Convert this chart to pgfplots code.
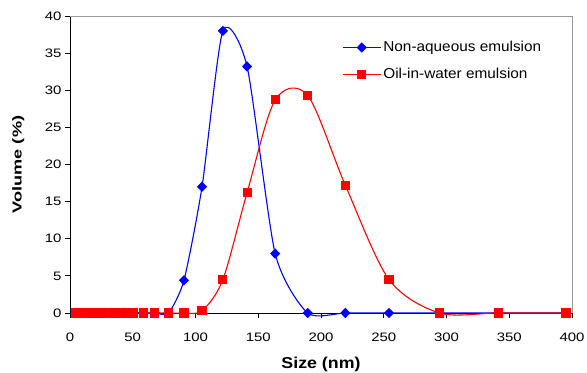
\documentclass[border=0pt]{standalone}
\usepackage{pgfplots}
\pgfplotsset{compat=1.18}
\usepackage{fontspec}
\setmainfont{Liberation Sans}
\newfontfamily\tickfont{Liberation Sans}[FakeStretch=1.22]
\newfontfamily\legfont{Liberation Sans}[FakeStretch=1.07]
\newfontfamily\xlabfont{Liberation Sans}[FakeStretch=1.13]
\newfontfamily\ylabfont{Liberation Sans}[FakeStretch=1.4]
\begin{document}
\begin{tikzpicture}
\begin{axis}[
  scale only axis,
  width=502bp, height=297bp,
  xmin=0, xmax=400, ymin=0, ymax=40,
  xtick={0,50,...,400}, ytick={0,5,...,40},
  axis lines=left,
  axis line style={-, black, line width=0.8bp},
  tick align=outside,
  major tick length=5bp,
  tick style={black, line width=0.8bp},
  /pgf/number format/assume math mode=true,
  ticklabel style={font=\tickfont\fontsize{12.3}{14}\selectfont},
  xticklabel style={yshift=-11bp},
  xlabel={Size (nm)}, ylabel={Volume (\%)},
  xlabel style={at={(axis description cs:0.5,-0.172)}, anchor=center, font=\xlabfont\fontsize{15.8}{18}\selectfont\bfseries},
  ylabel style={at={(axis description cs:-0.103,0.5)}, rotate=0, anchor=center, font=\ylabfont\fontsize{13}{15}\selectfont\bfseries},
  clip=false,
  legend style={at={(0.536,0.928)}, anchor=north west, draw=none, fill=none,
    font=\legfont\fontsize{14.4}{16}\selectfont, row sep=11bp,
    /tikz/every even column/.append style={column sep=3bp}},
  legend cell align=left,
  legend image code/.code={\draw[mark repeat=2,mark phase=2] plot coordinates {(0bp,0bp)(19bp,0bp)(38bp,0bp)};},
]
\draw[color=black!40, line width=0.8bp] (rel axis cs:0,1) -- (rel axis cs:1,1) -- (rel axis cs:1,0);
\addplot[blue, line width=1.1bp, smooth, tension=0.4, mark=diamond*, mark size=4.4bp, mark options={xscale=1.3,solid}] coordinates {
(4.1,0)(4.8,0)(5.6,0)(6.4,0)(7.5,0)(8.6,0)(10.0,0)(11.6,0)(13.4,0)(15.5,0)(18.0,0)(20.9,0)(24.2,0)(28.0,0)(32.4,0)(37.6,0)(43.5,0)(50.4,0)(58.4,0)(67.6,0)(78.4,0)(90.8,4.4)(105.2,17.0)(121.8,38.0)(141.1,33.2)(163.5,8.0)(189.4,0)(219.4,0)(254.2,0)(294.5,0)(341.1,0)(395.2,0)
};
\addlegendentry{Non-aqueous emulsion}
\addplot[red, line width=1.1bp, smooth, tension=0.5, mark=square*, mark size=4bp, mark options={solid}] coordinates {
(4.1,0)(4.8,0)(5.6,0)(6.4,0)(7.5,0)(8.6,0)(10.0,0)(11.6,0)(13.4,0)(15.5,0)(18.0,0)(20.9,0)(24.2,0)(28.0,0)(32.4,0)(37.6,0)(43.5,0)(50.4,0)(58.4,0)(67.6,0)(78.4,0)(90.8,0)(105.2,0.3)(121.8,4.5)(141.1,16.2)(163.5,28.7)(189.4,29.3)(219.4,17.2)(254.2,4.5)(294.5,0)(341.1,0)(395.2,0)
};
\addlegendentry{Oil-in-water emulsion}
\end{axis}
\pgfresetboundingbox
\path (-70bp,-60bp) rectangle (517bp,313bp);
\end{tikzpicture}
\end{document}
